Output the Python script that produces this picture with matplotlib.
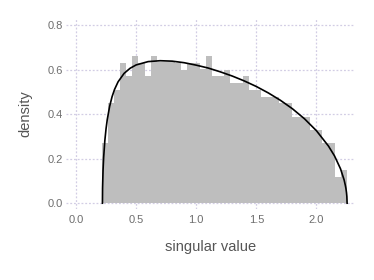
import numpy as np
import matplotlib
matplotlib.use("Agg")
import matplotlib.pyplot as plt

# histogram: 40 bins
bin_start = 0.213
bin_width = 0.051
density = [0.27, 0.45, 0.51, 0.63, 0.57, 0.66, 0.63, 0.57, 0.66, 0.635,
           0.635, 0.635, 0.63, 0.60, 0.63, 0.63, 0.605, 0.66, 0.57, 0.57,
           0.60, 0.54, 0.54, 0.57, 0.51, 0.51, 0.48, 0.48, 0.48, 0.45,
           0.45, 0.39, 0.39, 0.39, 0.33, 0.33, 0.27, 0.27, 0.12, 0.15]

# theoretical curve, points
curve_x = [0.22, 0.221, 0.225, 0.23, 0.24, 0.25, 0.26, 0.28, 0.30, 0.32,
           0.35, 0.40, 0.45, 0.50, 0.60, 0.70, 0.80, 0.90, 1.00, 1.10,
           1.20, 1.30, 1.40, 1.50, 1.60, 1.70, 1.80, 1.90, 2.00, 2.10,
           2.15, 2.20, 2.23, 2.24, 2.245, 2.25, 2.253, 2.255]
curve_y = [0.0, 0.067, 0.148, 0.206, 0.282, 0.335, 0.376, 0.436, 0.479, 0.511,
           0.546, 0.584, 0.607, 0.622, 0.637, 0.641, 0.639, 0.632, 0.621, 0.608,
           0.591, 0.572, 0.550, 0.525, 0.496, 0.463, 0.425, 0.380, 0.326, 0.257,
           0.213, 0.155, 0.105, 0.081, 0.067, 0.047, 0.030, 0.0]

xticks = [0.0, 0.5, 1.0, 1.5, 2.0]
yticks = [0.0, 0.2, 0.4, 0.6, 0.8]

plt.rcParams['font.family'] = ['Liberation Sans', 'DejaVu Sans']

fig = plt.figure(figsize=(3.74, 2.8), dpi=100)
ax = fig.add_axes([0.1765, 0.2536, 0.7725, 0.682])

left = bin_start + bin_width * np.arange(len(density))
ax.bar(left, density, width=bin_width, align='edge', color='#bebebe',
       linewidth=0, zorder=2)
ax.plot(curve_x, curve_y, color='black', linewidth=1.2, zorder=3)

ax.set_xlim(-0.083, 2.32)
ax.set_ylim(-0.026, 0.833)
ax.set_xticks(xticks)
ax.set_xticklabels(['%.1f' % t for t in xticks])
ax.set_yticks(yticks)
ax.set_yticklabels(['%.1f' % t for t in yticks])

for s in ax.spines.values():
    s.set_visible(False)
ax.tick_params(length=0, labelsize=8, colors='#6e6e6e')
ax.tick_params(axis='x', pad=4)
ax.tick_params(axis='y', pad=2.5)
ax.grid(True, color='#d2cde4', linestyle=(0, (1.5, 1.5)), linewidth=0.9, zorder=0)
ax.set_axisbelow(True)

ax.set_xlabel('singular value', fontsize=10.5, color='#555555', labelpad=11)
ax.set_ylabel('density', fontsize=10.5, color='#555555', labelpad=11)

fig.savefig('out.png', dpi=100)
